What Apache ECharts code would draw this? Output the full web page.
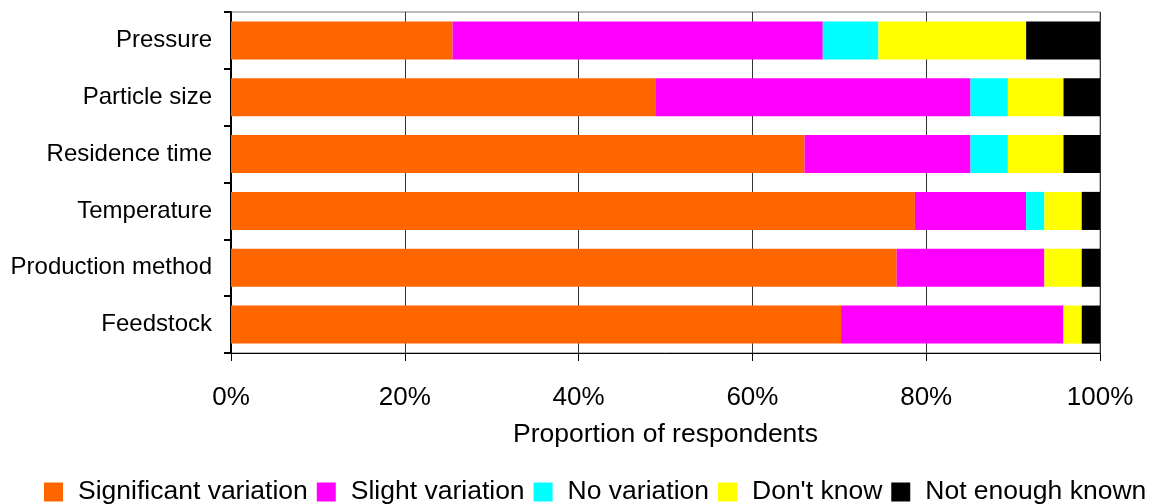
<!DOCTYPE html>
<html>
<head>
<meta charset="utf-8">
<script src="https://cdn.jsdelivr.net/npm/echarts@6/dist/echarts.min.js"></script>
<style>html,body{margin:0;padding:0;background:#fff}#c{width:1153px;height:504px}</style>
</head>
<body>
<div id="c"></div>
<script>
const categories = ['Pressure', 'Particle size', 'Residence time', 'Temperature', 'Production method', 'Feedstock'];
const significant = [25.5, 48.9, 66.0, 78.7, 76.6, 70.2];
const slight = [42.6, 36.2, 19.1, 12.8, 17.0, 25.6];
const noVariation = [6.4, 4.3, 4.3, 2.1, 0, 0];
const dontKnow = [17.0, 6.4, 6.4, 4.3, 4.3, 2.1];
const notEnough = [8.5, 4.2, 4.2, 2.1, 2.1, 2.1];
const seriesNames = ['Significant variation', 'Slight variation', 'No variation', "Don't know", 'Not enough known'];
const seriesColors = ['#ff6600', '#ff00ff', '#00ffff', '#ffff00', '#000000'];
const xTicks = [0, 20, 40, 60, 80, 100];

const data = [significant, slight, noVariation, dontKnow, notEnough];
const font = '"Liberation Sans", Arial, sans-serif';
const chart = echarts.init(document.getElementById('c'), null, {renderer: 'canvas'});
chart.setOption({
  animation: false,
  textStyle: {fontFamily: font},
  grid: {left: 231, right: 53, top: 12, bottom: 151, show: true, borderColor: '#777', borderWidth: 1},
  legend: {
    top: 478, left: 44, padding: 0,
    itemWidth: 19, itemHeight: 19, itemGap: 9,
    icon: 'rect',
    textStyle: {fontSize: 26.5, lineHeight: 28, color: '#000', fontFamily: font, padding: [0, 0, 0, 10]},
    data: seriesNames
  },
  xAxis: {
    type: 'value', min: 0, max: 100, interval: 20,
    axisLine: {show: true, lineStyle: {color: '#000', width: 1}},
    axisTick: {show: true, length: 8, lineStyle: {color: '#000'}},
    splitLine: {show: true, lineStyle: {color: '#333', width: 1}},
    axisLabel: {fontSize: 26, color: '#000', margin: 32, formatter: v => xTicks.includes(v) ? v + '%' : ''},
    name: 'Proportion of respondents', nameLocation: 'middle', nameGap: 68,
    nameTextStyle: {fontSize: 26.5, color: '#000'}
  },
  yAxis: {
    type: 'category', data: categories, inverse: true,
    axisLine: {show: true, lineStyle: {color: '#000', width: 2}},
    axisTick: {show: true, length: 7, lineStyle: {color: '#000', width: 2}},
    axisLabel: {fontSize: 24, color: '#000', margin: 19}
  },
  series: seriesNames.map((n, i) => ({
    name: n, type: 'bar', stack: 'total', data: data[i],
    barCategoryGap: '33%',
    itemStyle: {color: seriesColors[i]}
  }))
});
</script>
</body>
</html>
